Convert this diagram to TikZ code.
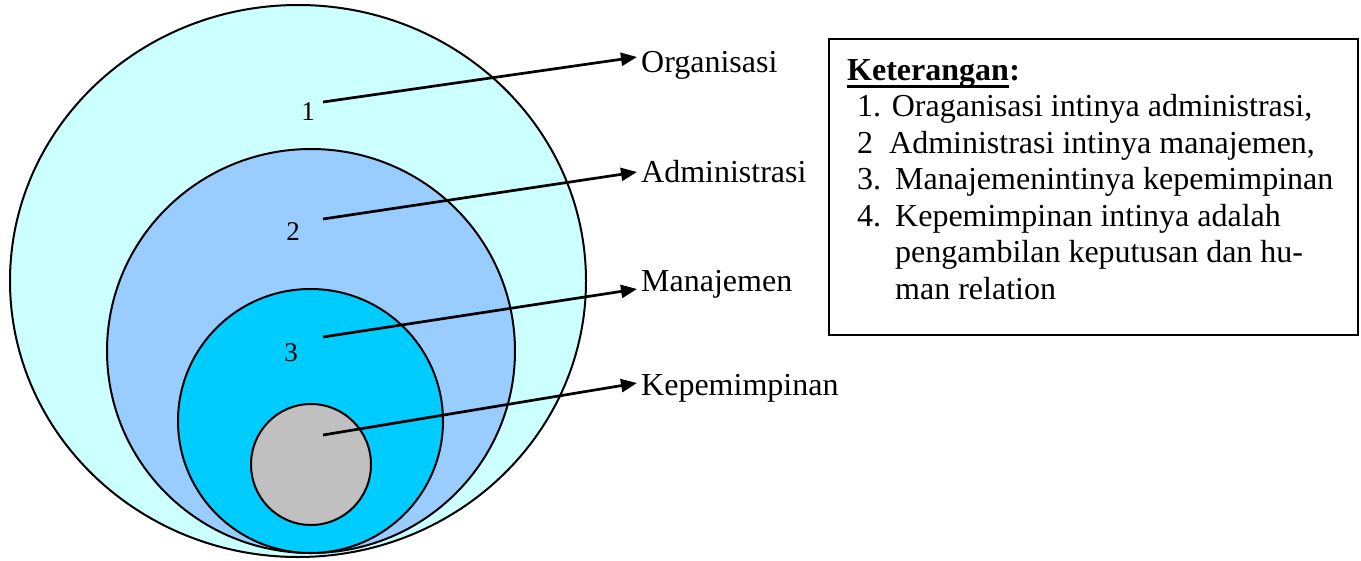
\documentclass[tikz,border=0pt]{standalone}
\usepackage{fontspec}
\setmainfont{Liberation Serif}
\usetikzlibrary{arrows.meta,calc}
\definecolor{ringA}{HTML}{CCFFFF}
\definecolor{ringB}{HTML}{99CCFF}
\definecolor{ringC}{HTML}{00CCFF}
\definecolor{ringD}{HTML}{C0C0C0}
\begin{document}
\begin{tikzpicture}[x=1pt,y=-1pt,
  ring/.style={draw=black, line width=2pt},
  pointer/.style={line width=2.7pt, -{Triangle[length=16pt,width=13pt]}},
  tag/.style={anchor=base west, inner sep=0pt, font=\fontsize{32}{36}\selectfont\rmfamily},
  num/.style={inner sep=0pt, font=\fontsize{27}{30}\selectfont\rmfamily},
  keytext/.style={anchor=base west, inner sep=0pt, font=\fontsize{32}{36}\selectfont\rmfamily}]
\useasboundingbox (0,0) rectangle (1361,560);

% nested levels
\draw[ring, fill=ringA] (298,281) ellipse [x radius=288pt, y radius=276pt];
\draw[ring, fill=ringB] (311,351) ellipse [x radius=204pt, y radius=202pt];
\draw[ring, fill=ringC] (310.5,421) ellipse [x radius=132.5pt, y radius=132pt];
\draw[ring, fill=ringD] (311,464.5) ellipse [x radius=60pt, y radius=60.5pt];

% level numbers
\node[num] (n1) at (308,112) {1};
\node[num] (n2) at (293,232) {2};
\node[num] (n3) at (291,353) {3};

% level names
\node[tag] (l1) at (641,72) {Organisasi};
\node[tag] (l2) at (641,182) {Administrasi};
\node[tag] (l3) at (641,291) {Manajemen};
\node[tag] (l4) at (641,395) {Kepemimpinan};

% pointers
\coordinate (s1) at (323,102);  \coordinate (e1) at (637,57);
\coordinate (s2) at (323,219);  \coordinate (e2) at (637,172);
\coordinate (s3) at (323,337);  \coordinate (e3) at (637,289);
\coordinate (s4) at (323,435);  \coordinate (e4) at (637,383);
\draw[pointer] (s1) -- (e1);
\draw[pointer] (s2) -- (e2);
\draw[pointer] (s3) -- (e3);
\draw[pointer] (s4) -- (e4);

% legend
\node[draw, line width=1.5pt, anchor=north west, inner sep=0pt,
      minimum width=529pt, minimum height=296pt] (box) at (828,38) {};
\node[keytext] (k0) at (847,80) {\bfseries Keterangan};
\node[keytext, anchor=base west] (k0c) at (k0.base east) {\bfseries :};
\draw[line width=3pt] ($(k0.base west)+(0,6)$) -- ($(k0.base east)+(0,6)$);
\node[keytext] (k1) at (857,116.5) {1. Oraganisasi intinya administrasi,};
\node[keytext] (k2) at (857,153) {2\ \ Administrasi intinya manajemen,};
\node[keytext] (k3a) at (857,189.5) {3.};
\node[keytext] (k3b) at (895,189.5) {Manajemenintinya kepemimpinan};
\node[keytext] (k4a) at (857,226) {4.};
\node[keytext] (k4b) at (895,226) {Kepemimpinan intinya adalah};
\node[keytext] (k5) at (895,262.5) {pengambilan keputusan dan hu-};
\node[keytext] (k6) at (895,299) {man relation};
\end{tikzpicture}
\end{document}
